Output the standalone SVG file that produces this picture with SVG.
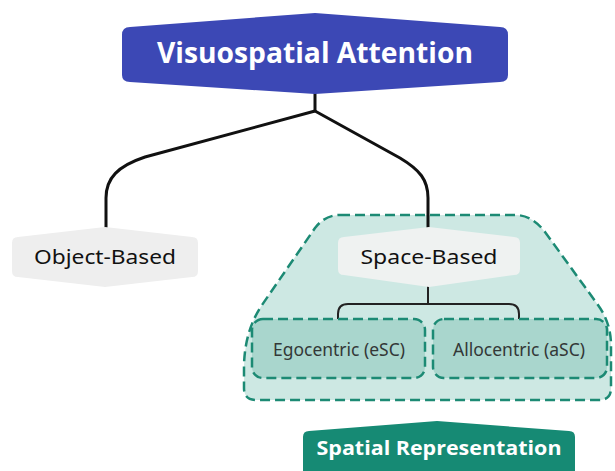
<svg xmlns="http://www.w3.org/2000/svg" width="615" height="471" viewBox="0 0 615 471">
<style>
.title{font-family:"Open Sans","Liberation Sans",sans-serif;font-weight:700;fill:#ffffff;text-anchor:middle}
.lbl{font-family:"Noto Sans","Open Sans","Liberation Sans",sans-serif;font-weight:400;fill:#111111;text-anchor:middle}
.sub{font-family:"Noto Sans","Open Sans","Liberation Sans",sans-serif;font-weight:400;fill:#333837;text-anchor:middle}
.dash{stroke:#1c8a74;stroke-width:2.5;stroke-dasharray:10 5;fill:none}
.conn{fill:none;stroke:#111111;stroke-width:3;stroke-linejoin:round}
.conn2{fill:none;stroke:#222222;stroke-width:2}
</style>
<rect width="615" height="471" fill="#ffffff"/>
<g id="spatial-group">
<path d="M340,215 L515,215 Q532,215 545,232 L598,305 Q611,323 611,345 L611,388 Q611,400 599,400 L256,400 Q244,400 244,388 L244,365 Q245,330 262,305 L315,228 Q325,215 340,215 Z" fill="#cde8e3"/>
<path class="dash" d="M340,215 L515,215 Q532,215 545,232 L598,305 Q611,323 611,345 L611,388 Q611,400 599,400 L256,400 Q244,400 244,388 L244,365 Q245,330 262,305 L315,228 Q325,215 340,215 Z"/>
</g>
<g id="connectors">
<path class="conn" d="M315,92 L315,111"/>
<path class="conn" d="M315,111 L145,157 C118,166 106,178 106,198 L106,230"/>
<path class="conn" d="M315,111 L400,158 C420,170 428,180 428,198 L428,230"/>
<path class="conn2" d="M428,285 L428,304"/>
<path class="conn2" d="M338,334 L338,314 Q338,304 348,304 L509,304 Q519,304 519,314 L519,334"/>
</g>
<g id="visuospatial-attention">
<path d="M315,13 L500,27 Q508,27 508,35 L508,75 Q508,82 500,82 L315,94 L130,82 Q122,82 122,75 L122,35 Q122,27 130,27 Z" fill="#3c48b5"/>
<text class="title" x="315" y="63" font-size="28" textLength="316" lengthAdjust="spacingAndGlyphs">Visuospatial Attention</text>
</g>
<g id="object-based">
<path d="M105,227 L192,237 Q198,237 198,243 L198,271 Q198,277 192,277 L105,287 L18,277 Q12,277 12,271 L12,243 Q12,237 18,237 Z" fill="#eeeeee"/>
<text class="lbl" x="105" y="264" font-size="20" textLength="142" lengthAdjust="spacingAndGlyphs">Object-Based</text>
</g>
<g id="space-based">
<path d="M429,227 L514,237 Q520,237 520,243 L520,269 Q520,275 514,275 L429,287 L344,275 Q338,275 338,269 L338,243 Q338,237 344,237 Z" fill="#eff2f1"/>
<text class="lbl" x="429" y="264" font-size="20" textLength="137" lengthAdjust="spacingAndGlyphs">Space-Based</text>
</g>
<g id="egocentric">
<rect x="252" y="319" width="173" height="59" rx="11" fill="#a9d6cd"/>
<rect class="dash" x="252" y="319" width="173" height="59" rx="11"/>
<text class="sub" x="339" y="356" font-size="17.5" textLength="132" lengthAdjust="spacingAndGlyphs">Egocentric (eSC)</text>
</g>
<g id="allocentric">
<rect x="433" y="319" width="174" height="59" rx="11" fill="#a9d6cd"/>
<rect class="dash" x="433" y="319" width="174" height="59" rx="11"/>
<text class="sub" x="519" y="356" font-size="17.5" textLength="132" lengthAdjust="spacingAndGlyphs">Allocentric (aSC)</text>
</g>
<g id="spatial-representation">
<path d="M437,421 L569,431 Q575,431 575,437 L575,475 L303,475 L303,437 Q303,431 309,431 Z" fill="#168a74"/>
<text class="title" x="439" y="455" font-size="20" textLength="245" lengthAdjust="spacingAndGlyphs">Spatial Representation</text>
</g>
</svg>
